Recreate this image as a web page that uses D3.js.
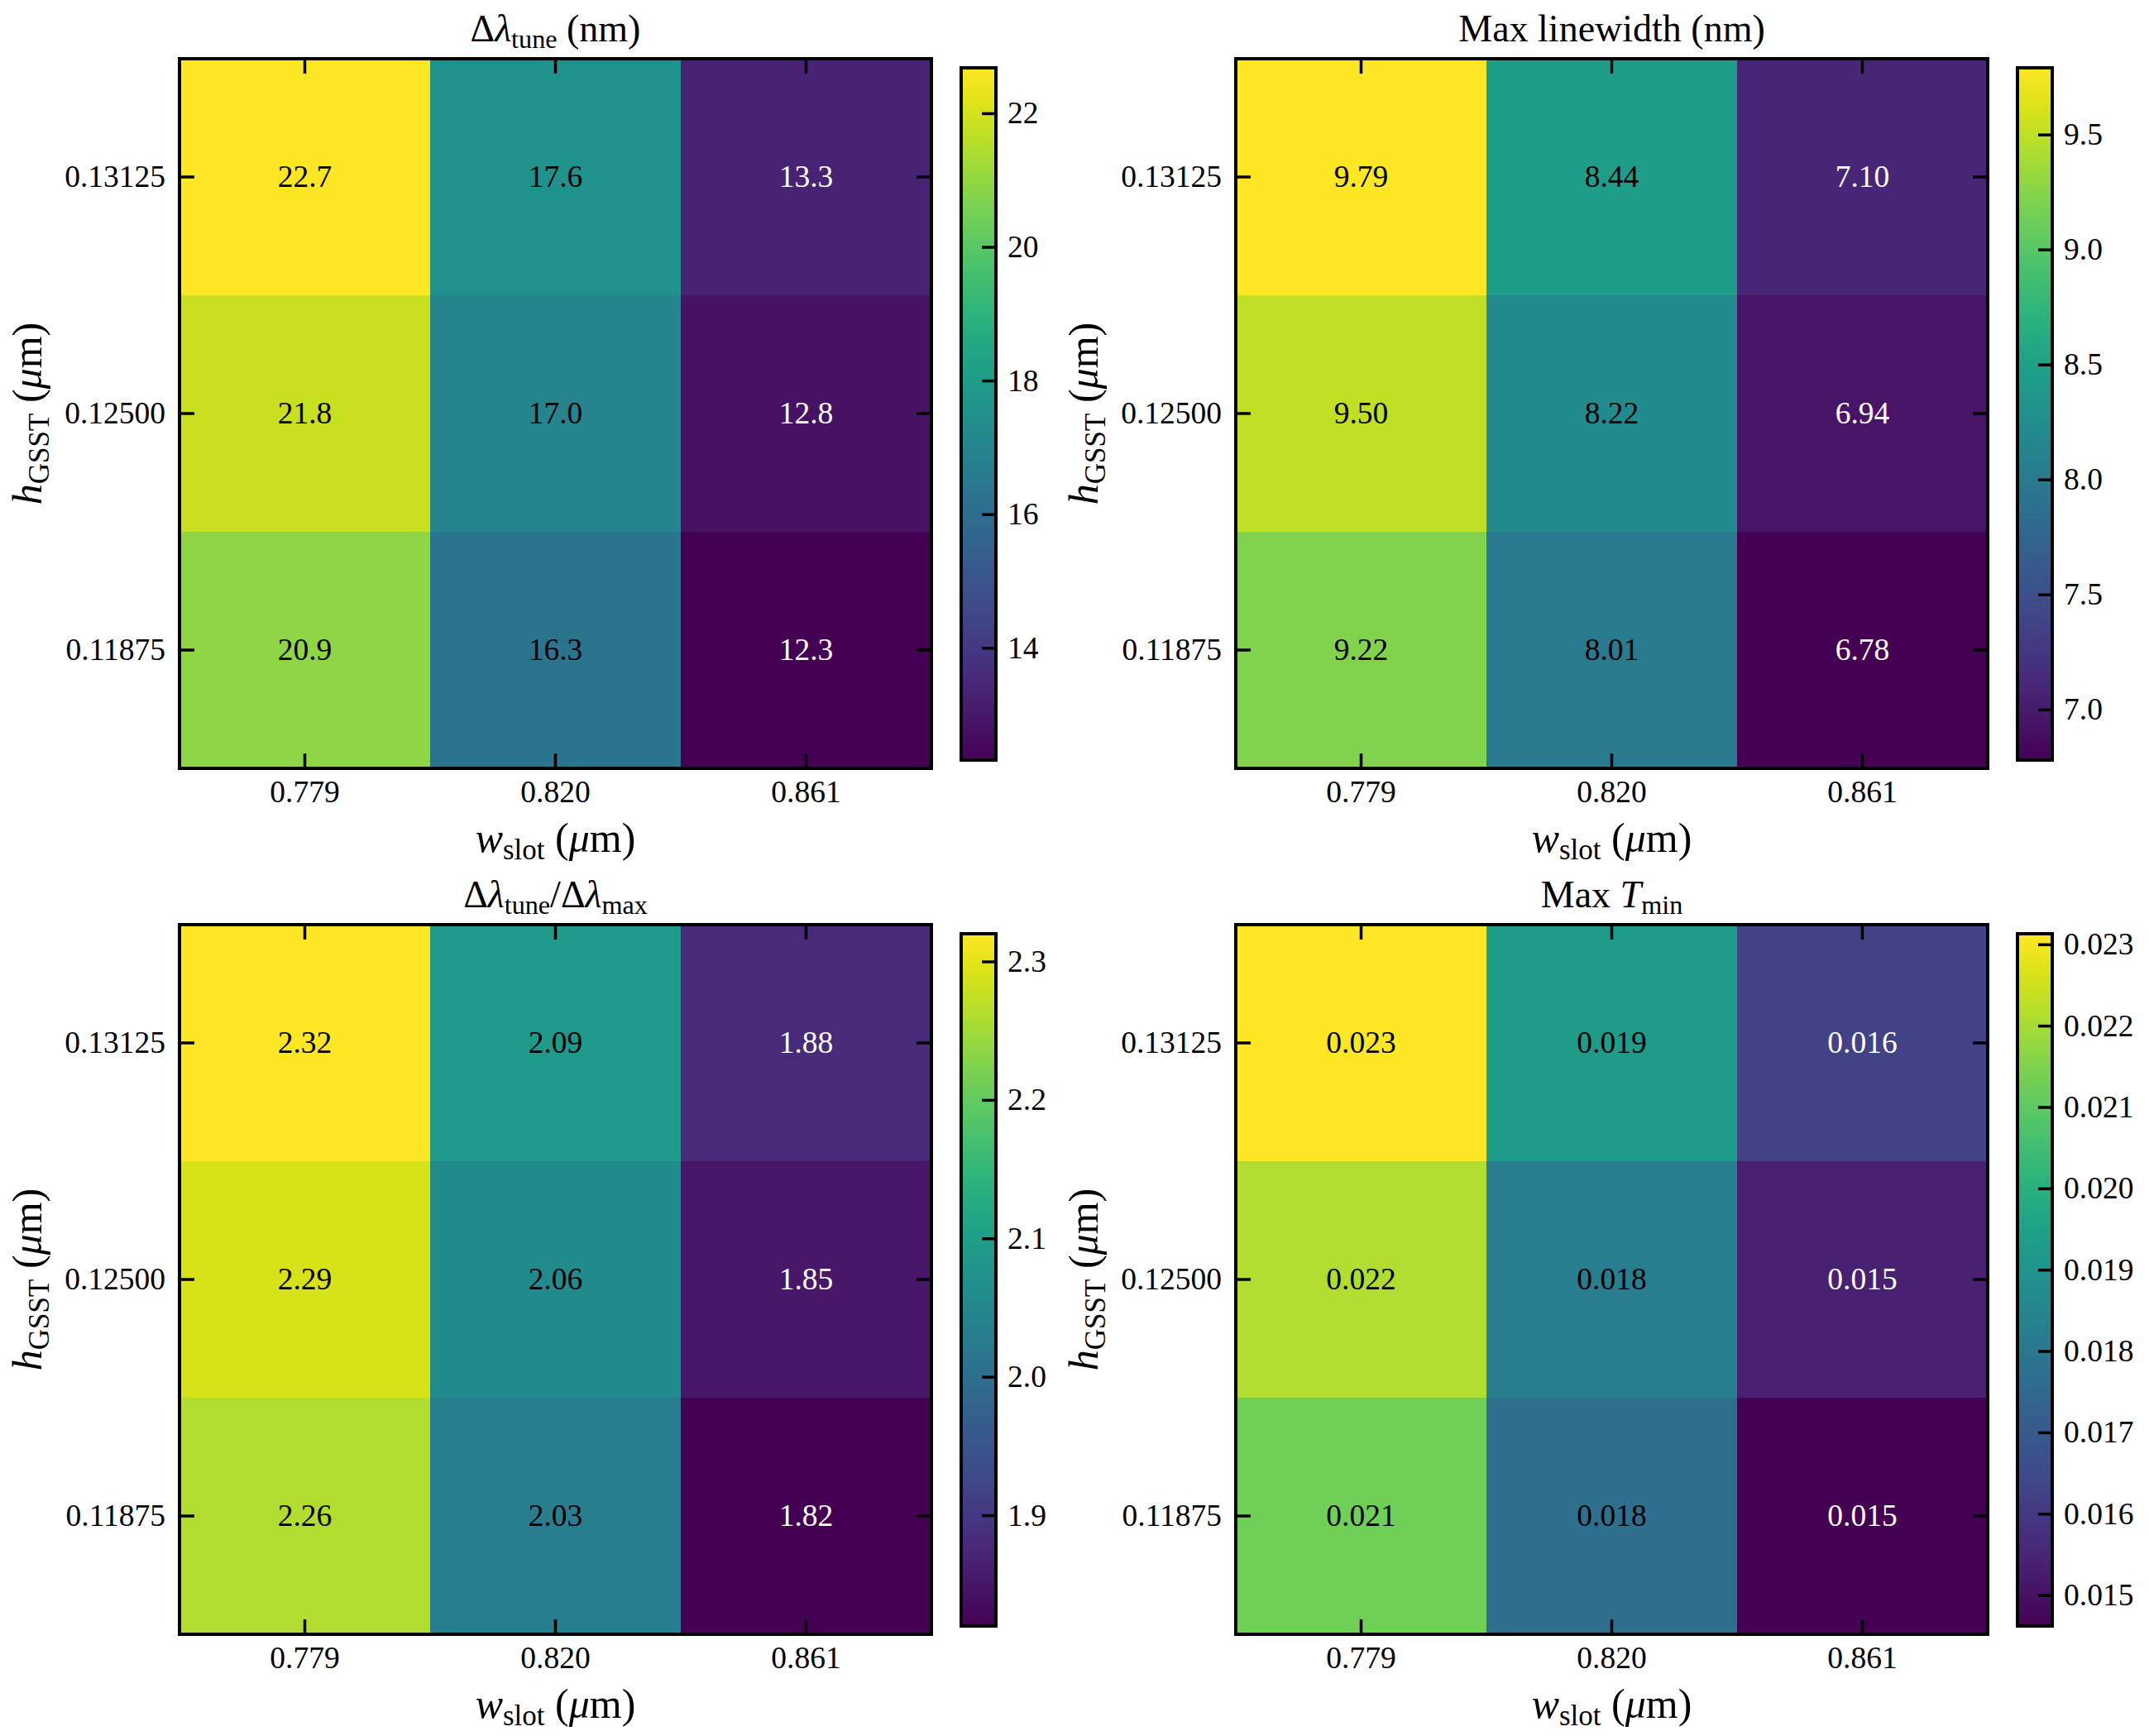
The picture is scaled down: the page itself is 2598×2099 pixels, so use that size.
<!DOCTYPE html>
<html>
<head>
<meta charset="utf-8">
<script src="https://cdn.jsdelivr.net/npm/d3@7"></script>
<style>
body { margin: 0; background: #fff; }
svg text, svg tspan { font-family: "Liberation Serif", "Times New Roman", serif !important; }
</style>
</head>
<body>
<svg id="fig" width="2598" height="2099"></svg>
<script>
const wSlot = ["0.779", "0.820", "0.861"];
const hGsst = ["0.13125", "0.12500", "0.11875"];

// rows from top to bottom: 0.13125, 0.12500, 0.11875
const tuneVals = [[22.68, 17.6, 13.3], [21.8, 17.0, 12.8], [20.9, 16.3, 12.32]];
const linewidthVals = [[9.79, 8.44, 7.10], [9.50, 8.22, 6.94], [9.22, 8.01, 6.78]];
const ratioVals = [[2.32, 2.09, 1.88], [2.29, 2.06, 1.85], [2.26, 2.03, 1.82]];
const tminVals = [[0.02313, 0.0193, 0.0163], [0.0221, 0.0182, 0.0154], [0.0213, 0.0177, 0.01462]];

const tuneTicks = [14, 16, 18, 20, 22];
const linewidthTicks = [7.0, 7.5, 8.0, 8.5, 9.0, 9.5];
const ratioTicks = [1.9, 2.0, 2.1, 2.2, 2.3];
const tminTicks = [0.015, 0.016, 0.017, 0.018, 0.019, 0.020, 0.021, 0.022, 0.023];

// title pieces: [text, italic, subscript]
const tuneTitle = [["Δ"], ["λ", 1], ["tune", 0, 1], [" (nm)"]];
const linewidthTitle = [["Max linewidth (nm)"]];
const ratioTitle = [["Δ"], ["λ", 1], ["tune", 0, 1], ["/Δ"], ["λ", 1], ["max", 0, 1]];
const tminTitle = [["Max "], ["T", 1], ["min", 0, 1]];
const xLabel = [["w", 1], ["slot", 0, 1], [" ("], ["μ", 1], ["m)"]];
const yLabel = [["h", 1], ["GSST", 0, 1], [" ("], ["μ", 1], ["m)"]];

const panels = [
  {id: "a", vals: tuneVals, ticks: tuneTicks, fmt: ".1f", cfmt: "d", title: tuneTitle, dx: 0, dy: 0},
  {id: "b", vals: linewidthVals, ticks: linewidthTicks, fmt: ".2f", cfmt: ".1f", title: linewidthTitle, dx: 1277, dy: 0},
  {id: "c", vals: ratioVals, ticks: ratioTicks, fmt: ".2f", cfmt: ".1f", title: ratioTitle, dx: 0, dy: 1047},
  {id: "d", vals: tminVals, ticks: tminTicks, fmt: ".3f", cfmt: ".3f", title: tminTitle, dx: 1277, dy: 1047}
];

const serif = '"Liberation Serif", "Times New Roman", serif';
const tickFont = 37.5, titleFont = 46, labelFont = 50;
const x0 = 217, x1 = 1126, y0 = 71, y1 = 929;      // heatmap axes
const cx0 = 1162, cx1 = 1204, cy0 = 82, cy1 = 919; // colorbar

const svg = d3.select("#fig");

// writes math-like text with italics and subscripts
function mathText(sel, parts, size) {
  let shifted = false;
  sel.attr("font-family", serif).attr("fill", "#000");
  parts.forEach(p => {
    const ts = sel.append("tspan").text(p[0]).attr("font-size", p[2] ? size * 0.7 : size);
    if (p[1]) ts.attr("font-style", "italic");
    if (p[2] && !shifted) { ts.attr("dy", size * 0.17); shifted = true; }
    else if (!p[2] && shifted) { ts.attr("dy", -size * 0.17); shifted = false; }
  });
}

function styleAxis(g, hideLabels) {
  g.attr("font-family", serif);
  g.select(".domain").remove();
  g.selectAll(".tick line").attr("stroke", "#000").attr("stroke-width", 3.5);
  g.selectAll(".tick text").attr("font-size", tickFont).attr("font-family", serif).attr("fill", "#000");
  if (hideLabels) g.selectAll(".tick text").remove();
}

panels.forEach(p => {
  const g = svg.append("g").attr("transform", `translate(${p.dx},${p.dy})`);
  const flat = p.vals.flat();
  const ext = d3.extent(flat);

  const x = d3.scaleBand().domain(wSlot).range([x0, x1]);
  const y = d3.scaleBand().domain(hGsst).range([y0, y1]);
  const color = d3.scaleSequential(d3.interpolateViridis).domain(ext);
  const norm = d3.scaleLinear().domain(ext).range([0, 1]);

  const cells = [];
  hGsst.forEach((h, i) => wSlot.forEach((w, j) => cells.push({h, w, v: p.vals[i][j]})));

  g.selectAll("rect.cell").data(cells).join("rect")
    .attr("class", "cell")
    .attr("x", d => x(d.w)).attr("y", d => y(d.h))
    .attr("width", x.bandwidth() + 0.5).attr("height", y.bandwidth() + 0.5)
    .attr("fill", d => color(d.v));

  g.selectAll("text.val").data(cells).join("text")
    .attr("class", "val")
    .attr("x", d => x(d.w) + x.bandwidth() / 2)
    .attr("y", d => y(d.h) + y.bandwidth() / 2)
    .attr("dy", "0.33em")
    .attr("text-anchor", "middle")
    .attr("font-family", serif)
    .attr("font-size", tickFont)
    .attr("fill", d => norm(d.v) < 0.3 ? "#fff" : "#000")
    .text(d => d3.format(p.fmt)(d.v));

  // ticks point inward on all four sides
  g.append("g").attr("transform", `translate(0,${y1})`)
    .call(d3.axisBottom(x).tickSize(-18).tickPadding(14)).call(a => styleAxis(a, false));
  g.append("g").attr("transform", `translate(0,${y0})`)
    .call(d3.axisTop(x).tickSize(-18)).call(a => styleAxis(a, true));
  g.append("g").attr("transform", `translate(${x0},0)`)
    .call(d3.axisLeft(y).tickSize(-18).tickPadding(17)).call(a => styleAxis(a, false));
  g.append("g").attr("transform", `translate(${x1},0)`)
    .call(d3.axisRight(y).tickSize(-18)).call(a => styleAxis(a, true));

  g.append("rect").attr("x", x0).attr("y", y0).attr("width", x1 - x0).attr("height", y1 - y0)
    .attr("fill", "none").attr("stroke", "#000").attr("stroke-width", 4);

  g.append("text").attr("x", (x0 + x1) / 2).attr("y", y0 - 21).attr("text-anchor", "middle")
    .call(t => mathText(t, p.title, titleFont));
  g.append("text").attr("x", (x0 + x1) / 2).attr("y", y1 + 101).attr("text-anchor", "middle")
    .call(t => mathText(t, xLabel, labelFont));
  g.append("text").attr("transform", `translate(50,${(y0 + y1) / 2}) rotate(-90)`).attr("text-anchor", "middle")
    .call(t => mathText(t, yLabel, labelFont));

  // colorbar
  const grad = svg.append("defs").append("linearGradient").attr("id", "cb" + p.id)
    .attr("x1", 0).attr("y1", 1).attr("x2", 0).attr("y2", 0);
  d3.range(0, 1.0001, 0.05).forEach(t => {
    grad.append("stop").attr("offset", t).attr("stop-color", d3.interpolateViridis(t));
  });
  const cy = d3.scaleLinear().domain(ext).range([cy1, cy0]);
  g.append("rect").attr("x", cx0).attr("y", cy0).attr("width", cx1 - cx0).attr("height", cy1 - cy0)
    .attr("fill", `url(#cb${p.id})`);
  g.append("g").attr("transform", `translate(${cx1},0)`)
    .call(d3.axisRight(cy).tickValues(p.ticks).tickFormat(d3.format(p.cfmt)).tickSize(-17).tickPadding(14))
    .call(a => styleAxis(a, false));
  g.append("rect").attr("x", cx0).attr("y", cy0).attr("width", cx1 - cx0).attr("height", cy1 - cy0)
    .attr("fill", "none").attr("stroke", "#000").attr("stroke-width", 4);
});
</script>
</body>
</html>
